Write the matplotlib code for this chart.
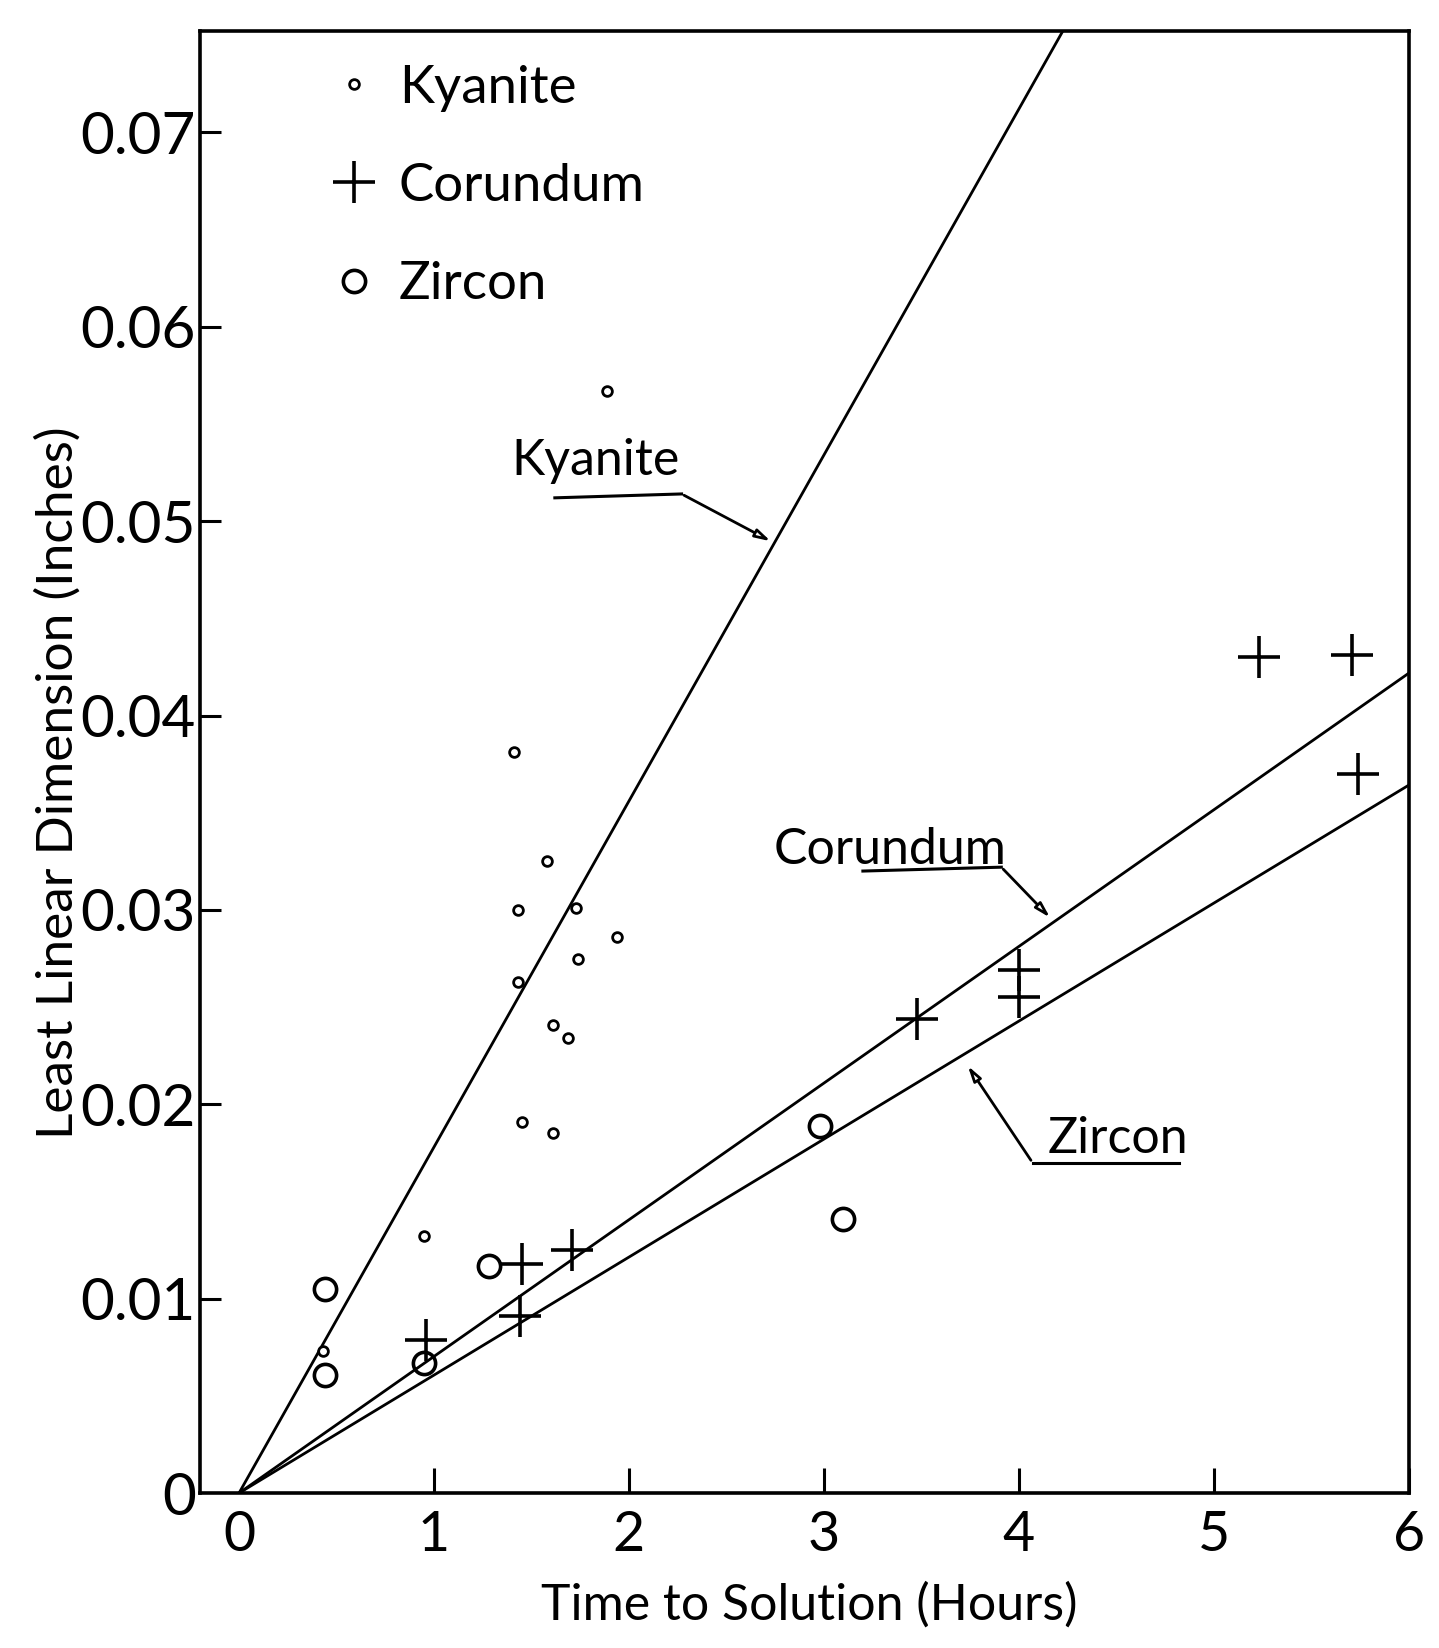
import numpy as np
import matplotlib.pyplot as plt

plt.rcParams['font.family'] = ['Lato', 'DejaVu Sans']

# Kyanite (small dots)
kyanite_t = [1.89, 1.41, 1.58, 1.43, 1.73, 1.94, 1.43, 1.74, 1.61, 1.69, 1.45, 1.61, 0.95, 0.43]
kyanite_d = [0.0567, 0.0381, 0.0325, 0.0300, 0.0301, 0.0286, 0.0263, 0.0275, 0.0241, 0.0234,
             0.0191, 0.0185, 0.0132, 0.0073]

# Corundum (crosses)
corundum_t = [0.96, 1.45, 1.71, 1.44, 3.48, 4.0, 4.0, 5.23, 5.71, 5.74]
corundum_d = [0.0079, 0.0118, 0.0125, 0.0091, 0.0244, 0.0269, 0.0255, 0.0430, 0.0431, 0.0370]

# Zircon (open circles)
zircon_t = [0.44, 0.44, 0.95, 1.28, 2.98, 3.10]
zircon_d = [0.0105, 0.0061, 0.0067, 0.0117, 0.0189, 0.0141]

# fitted lines through origin (inches per hour)
line_names = ['Kyanite', 'Corundum', 'Zircon']
line_slopes = [0.0178, 0.00703, 0.00607]

x_ticks = [0, 1, 2, 3, 4, 5, 6]
y_ticks = [0, 0.01, 0.02, 0.03, 0.04, 0.05, 0.06, 0.07]
y_tick_labels = ['0', '0.01', '0.02', '0.03', '0.04', '0.05', '0.06', '0.07']

fig = plt.figure(figsize=(14.39, 16.48), dpi=100)
ax = fig.add_axes([0.139, 0.094, 0.840, 0.887])

t = np.array([0, 6.0])
for s in line_slopes:
    ax.plot(t, s * t, color='black', lw=2.0)

ax.plot(kyanite_t, kyanite_d, ls='none', marker='o', ms=7, mfc='white', mec='black',
        mew=2.0, label='Kyanite')
ax.plot(corundum_t, corundum_d, ls='none', marker='+', ms=30, mec='black', mew=2.6,
        label='Corundum')
ax.plot(zircon_t, zircon_d, ls='none', marker='o', ms=16, mfc='none', mec='black',
        mew=2.6, label='Zircon')

# line labels with leader arrows
labels = [
    # text, text pos, underline start, elbow, arrow tip
    ('Kyanite', (1.83, 0.0531), (1.62, 0.0512), (2.27, 0.0514), (2.74, 0.0489)),
    ('Corundum', (3.34, 0.0331), (3.20, 0.0320), (3.91, 0.0322), (4.17, 0.0295)),
    ('Zircon', (4.51, 0.0182), (4.82, 0.0170), (4.07, 0.0170), (3.73, 0.0221)),
]
for name, tp, u0, el, tip in labels:
    ax.text(tp[0], tp[1], name, fontsize=36, ha='center', va='center')
    ax.plot([u0[0], el[0]], [u0[1], el[1]], color='black', lw=2.2)
    ax.annotate('', xy=tip, xytext=el,
                arrowprops=dict(arrowstyle='-|>,head_length=0.9,head_width=0.25',
                                color='black', lw=2.0, fc='white'))

ax.set_xlim(-0.2, 6.0)
ax.set_ylim(0, 0.0752)
ax.set_xticks(x_ticks)
ax.set_xticklabels([str(v) for v in x_ticks])
ax.set_yticks(y_ticks)
ax.set_yticklabels(y_tick_labels)
ax.tick_params(axis='x', direction='in', length=18, width=2.2, labelsize=40, pad=12)
ax.tick_params(axis='y', direction='in', length=15, width=2.2, labelsize=42, pad=3)
ax.xaxis.get_major_ticks()[0].tick1line.set_visible(False)
ax.yaxis.get_major_ticks()[0].tick1line.set_visible(False)
for sp in ax.spines.values():
    sp.set_linewidth(2.6)

ax.set_xlabel('Time to Solution (Hours)', fontsize=36)
ax.xaxis.set_label_coords(0.504, -0.061)
ax.set_ylabel('Least Linear Dimension (Inches)', fontsize=37)
ax.yaxis.set_label_coords(-0.117, 0.486)
ax.yaxis.label.set_va('center')

ax.legend(loc='upper left', bbox_to_anchor=(0.071, 1.006), frameon=False, fontsize=38,
          handlelength=1.0, handletextpad=0.34, labelspacing=0.97, borderaxespad=0.4)

fig.savefig('out.png', dpi=100)
